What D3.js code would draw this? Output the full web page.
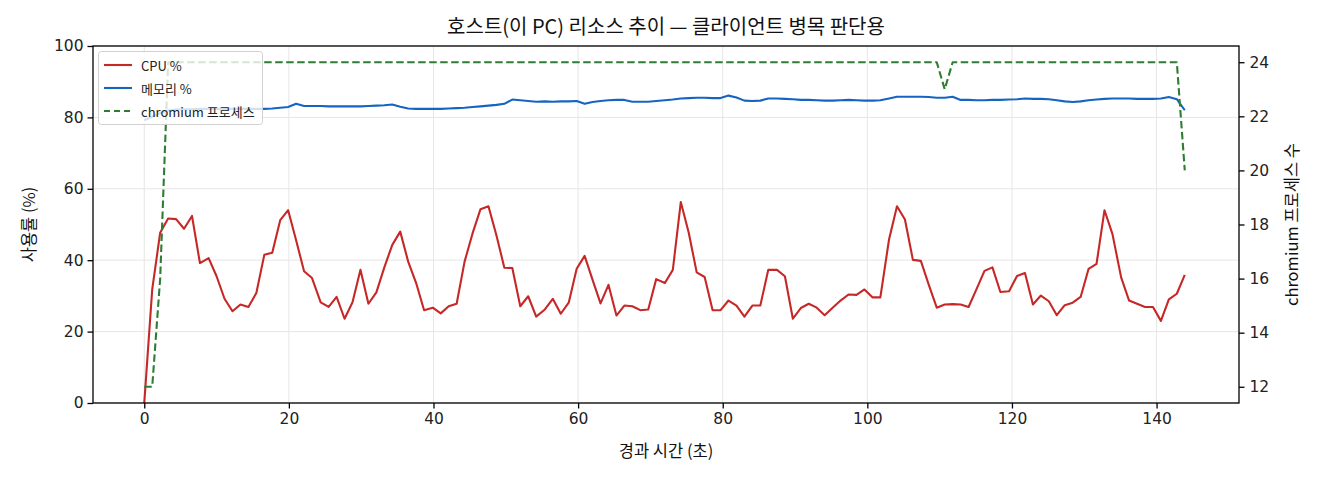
<!DOCTYPE html>
<html>
<head>
<meta charset="utf-8">
<script src="https://cdn.jsdelivr.net/npm/d3@7/dist/d3.min.js"></script>
<style>
  html, body { margin: 0; padding: 0; background: #fff; }
  svg { display: block; font-family: "Noto Sans CJK KR", "Noto Sans", sans-serif; }
</style>
</head>
<body>
<svg id="chart" width="1320" height="480"></svg>
<script>
// ---- data ----
const titleText = "호스트(이 PC) 리소스 추이 — 클라이언트 병목 판단용";
const xLabel = "경과 시간 (초)";
const yLeftLabel = "사용률 (%)";
const yRightLabel = "chromium 프로세스 수";
const seriesNames = ["CPU %", "메모리 %", "chromium 프로세스"];

const times = [
  0, 1.1, 2.2, 3.3, 4.4, 5.5, 6.6, 7.7, 8.9, 10.0,
  11.1, 12.2, 13.3, 14.4, 15.5, 16.6, 17.7, 18.8, 19.9, 21.0,
  22.1, 23.2, 24.4, 25.5, 26.6, 27.7, 28.8, 29.9, 31.0, 32.1,
  33.2, 34.3, 35.4, 36.5, 37.6, 38.7, 39.9, 41.0, 42.1, 43.2,
  44.3, 45.4, 46.5, 47.6, 48.7, 49.8, 50.9, 52.0, 53.1, 54.2,
  55.4, 56.5, 57.6, 58.7, 59.8, 60.9, 62.0, 63.1, 64.2, 65.3,
  66.4, 67.5, 68.6, 69.7, 70.8, 72.0, 73.1, 74.2, 75.3, 76.4,
  77.5, 78.6, 79.7, 80.8, 81.9, 83.0, 84.1, 85.2, 86.3, 87.5,
  88.6, 89.7, 90.8, 91.9, 93.0, 94.1, 95.2, 96.3, 97.4, 98.5,
  99.6, 100.7, 101.8, 103.0, 104.1, 105.2, 106.3, 107.4, 108.5, 109.6,
  110.7, 111.8, 112.9, 114.0, 115.1, 116.2, 117.3, 118.4, 119.6, 120.7,
  121.8, 122.9, 124.0, 125.1, 126.2, 127.3, 128.4, 129.5, 130.6, 131.7,
  132.8, 133.9, 135.1, 136.2, 137.3, 138.4, 139.5, 140.6, 141.7, 142.8,
  143.9
];

const cpu = [
  0, 31.8, 47.7, 51.7, 51.5, 48.8, 52.4, 39.2, 40.6, 35.5,
  29.2, 25.7, 27.6, 26.9, 30.8, 41.5, 42.1, 51.2, 54.0, 45.6,
  36.9, 35.0, 28.2, 26.9, 29.7, 23.6, 28.2, 37.3, 27.8, 31.0,
  38.0, 44.3, 48.0, 39.6, 33.6, 26.0, 26.7, 25.1, 27.1, 27.8,
  39.6, 47.5, 54.3, 55.1, 47.0, 37.9, 37.8, 27.1, 29.9, 24.2,
  26.2, 29.2, 25.0, 28.1, 37.6, 41.2, 34.5, 27.9, 33.1, 24.5,
  27.3, 27.1, 26.0, 26.2, 34.7, 33.6, 37.3, 56.3, 47.7, 36.6,
  35.3, 26.0, 26.0, 28.7, 27.3, 24.2, 27.3, 27.3, 37.3, 37.3,
  35.5, 23.6, 26.6, 27.8, 26.7, 24.6, 26.7, 28.7, 30.4, 30.3,
  31.8, 29.6, 29.6, 45.8, 55.1, 51.4, 40.1, 39.8, 33.1, 26.7,
  27.6, 27.7, 27.6, 26.9, 31.9, 37.0, 38.0, 31.1, 31.3, 35.6,
  36.4, 27.6, 30.1, 28.5, 24.6, 27.4, 28.1, 29.7, 37.6, 39.0,
  54.0, 47.3, 35.2, 28.7, 27.8, 26.9, 26.9, 23.0, 29.0, 30.6,
  35.9
];

const mem = [
  79.2, 80.2, 81.2, 81.9, 82.2, 82.3, 82.3, 82.4, 82.4, 82.4,
  82.4, 82.4, 82.4, 82.4, 82.4, 82.4, 82.5, 82.7, 82.9, 83.8,
  83.2, 83.2, 83.2, 83.1, 83.1, 83.1, 83.1, 83.1, 83.2, 83.3,
  83.4, 83.6, 83.0, 82.5, 82.4, 82.4, 82.4, 82.4, 82.5, 82.6,
  82.7, 82.9, 83.1, 83.3, 83.5, 83.8, 85.0, 84.8, 84.6, 84.4,
  84.5, 84.4, 84.5, 84.5, 84.6, 83.8, 84.3, 84.6, 84.8, 84.9,
  84.9, 84.4, 84.4, 84.4, 84.6, 84.8, 85.0, 85.3, 85.4, 85.5,
  85.5, 85.4, 85.4, 86.1, 85.6, 84.7, 84.6, 84.7, 85.3, 85.3,
  85.2, 85.1, 84.9, 84.9, 84.8, 84.7, 84.7, 84.8, 84.9, 84.8,
  84.7, 84.7, 84.8, 85.3, 85.8, 85.8, 85.8, 85.8, 85.7, 85.5,
  85.5, 85.8, 84.9, 84.9, 84.8, 84.8, 84.9, 84.9, 85.0, 85.1,
  85.3, 85.2, 85.2, 85.1, 84.8, 84.5, 84.3, 84.5, 84.8, 85.0,
  85.2, 85.3, 85.3, 85.3, 85.2, 85.2, 85.2, 85.3, 85.7, 85.1,
  82.0
];

const chromium = [
  12, 12, 16, 24, 24, 24, 24, 24, 24, 24,
  24, 24, 24, 24, 24, 24, 24, 24, 24, 24,
  24, 24, 24, 24, 24, 24, 24, 24, 24, 24,
  24, 24, 24, 24, 24, 24, 24, 24, 24, 24,
  24, 24, 24, 24, 24, 24, 24, 24, 24, 24,
  24, 24, 24, 24, 24, 24, 24, 24, 24, 24,
  24, 24, 24, 24, 24, 24, 24, 24, 24, 24,
  24, 24, 24, 24, 24, 24, 24, 24, 24, 24,
  24, 24, 24, 24, 24, 24, 24, 24, 24, 24,
  24, 24, 24, 24, 24, 24, 24, 24, 24, 24,
  23, 24, 24, 24, 24, 24, 24, 24, 24, 24,
  24, 24, 24, 24, 24, 24, 24, 24, 24, 24,
  24, 24, 24, 24, 24, 24, 24, 24, 24, 24,
  20
];

const xTicks = [0, 20, 40, 60, 80, 100, 120, 140];
const yLeftTicks = [0, 20, 40, 60, 80, 100];
const yRightTicks = [12, 14, 16, 18, 20, 22, 24];

// ---- layout ----
const svg = d3.select("#chart");
const L = 93, R = 1239, T = 46, B = 403;
const colors = { cpu: "#c62828", mem: "#1565c0", chrom: "#2e7d32" };

const x = d3.scaleLinear().domain([-7.09, 151.4]).range([L, R]);
const yL = d3.scaleLinear().domain([0, 100]).range([B, T]);
const yR = d3.scaleLinear().domain([11.4, 24.6]).range([B, T]);

// grid
const grid = svg.append("g");
grid.selectAll(".gx").data(xTicks).enter().append("line")
  .attr("x1", d => x(d)).attr("x2", d => x(d))
  .attr("y1", T).attr("y2", B)
  .attr("stroke", "#e6e6e6").attr("stroke-width", 1);
grid.selectAll(".gy").data(yLeftTicks).enter().append("line")
  .attr("x1", L).attr("x2", R)
  .attr("y1", d => yL(d)).attr("y2", d => yL(d))
  .attr("stroke", "#e6e6e6").attr("stroke-width", 1);

// lines
const idx = d3.range(times.length);
svg.append("defs").append("clipPath").attr("id", "clip")
  .append("rect").attr("x", L).attr("y", T).attr("width", R - L).attr("height", B - T);
const plot = svg.append("g").attr("clip-path", "url(#clip)");

const lineCpu = d3.line().x(i => x(times[i])).y(i => yL(cpu[i]));
const lineMem = d3.line().x(i => x(times[i])).y(i => yL(mem[i]));
const lineChr = d3.line().x(i => x(times[i])).y(i => yR(chromium[i]));

plot.append("path").attr("d", lineCpu(idx)).attr("fill", "none")
  .attr("stroke", colors.cpu).attr("stroke-width", 2.1).attr("stroke-linejoin", "round");
plot.append("path").attr("d", lineMem(idx)).attr("fill", "none")
  .attr("stroke", colors.mem).attr("stroke-width", 2.1).attr("stroke-linejoin", "round");
plot.append("path").attr("d", lineChr(idx)).attr("fill", "none")
  .attr("stroke", colors.chrom).attr("stroke-width", 2.1)
  .attr("stroke-dasharray", "7.5,3.5").attr("stroke-linejoin", "round");

// axes
const fs = 15.5;
const axB = svg.append("g").attr("transform", `translate(0,${B})`)
  .call(d3.axisBottom(x).tickValues(xTicks).tickSize(5.5).tickPadding(4).tickFormat(d3.format("d")));
const axL = svg.append("g").attr("transform", `translate(${L},0)`)
  .call(d3.axisLeft(yL).tickValues(yLeftTicks).tickSize(5.5).tickPadding(4).tickFormat(d3.format("d")));
const axR = svg.append("g").attr("transform", `translate(${R},0)`)
  .call(d3.axisRight(yR).tickValues(yRightTicks).tickSize(5.5).tickPadding(5).tickFormat(d3.format("d")));
[axB, axL, axR].forEach(a => {
  a.select(".domain").remove();
  a.selectAll(".tick line").attr("stroke", "#000").attr("stroke-width", 1.3);
  a.selectAll(".tick text").attr("fill", "#222").style("font-size", fs + "px")
    .style("font-family", "'DejaVu Sans', sans-serif");
});

// frame
svg.append("rect").attr("x", L).attr("y", T).attr("width", R - L).attr("height", B - T)
  .attr("fill", "none").attr("stroke", "#000").attr("stroke-width", 1.3);

// title + labels
svg.append("text").attr("x", (L + R) / 2).attr("y", 25).attr("text-anchor", "middle")
  .attr("dominant-baseline", "central").style("font-size", "20px").attr("fill", "#111").text(titleText);
svg.append("text").attr("x", (L + R) / 2).attr("y", 450).attr("text-anchor", "middle")
  .attr("dominant-baseline", "central").style("font-size", "16.5px").attr("fill", "#111").text(xLabel);
svg.append("text").attr("transform", `translate(28,${(T + B) / 2}) rotate(-90)`)
  .attr("text-anchor", "middle").attr("dominant-baseline", "central")
  .style("font-size", "16.5px").attr("fill", "#111").text(yLeftLabel);
svg.append("text").attr("transform", `translate(1291,${(T + B) / 2}) rotate(-90)`)
  .attr("text-anchor", "middle").attr("dominant-baseline", "central")
  .style("font-size", "16.5px").attr("fill", "#111").text(yRightLabel);

// legend
const leg = svg.append("g");
leg.append("rect").attr("x", 98.5).attr("y", 51.5).attr("width", 164).attr("height", 73)
  .attr("rx", 3).attr("fill", "#fff").attr("fill-opacity", 0.8)
  .attr("stroke", "#d0d0d0").attr("stroke-width", 1);
const legItems = [
  { name: seriesNames[0], color: colors.cpu, dash: null },
  { name: seriesNames[1], color: colors.mem, dash: null },
  { name: seriesNames[2], color: colors.chrom, dash: "6,4" }
];
legItems.forEach((it, k) => {
  const yy = 65 + k * 23;
  leg.append("line").attr("x1", 104).attr("x2", 132).attr("y1", yy).attr("y2", yy)
    .attr("stroke", it.color).attr("stroke-width", 2.1)
    .attr("stroke-dasharray", it.dash);
  leg.append("text").attr("x", 141).attr("y", yy).attr("dominant-baseline", "central")
    .style("font-size", "13px").attr("fill", "#222").text(it.name);
});
</script>
</body>
</html>
